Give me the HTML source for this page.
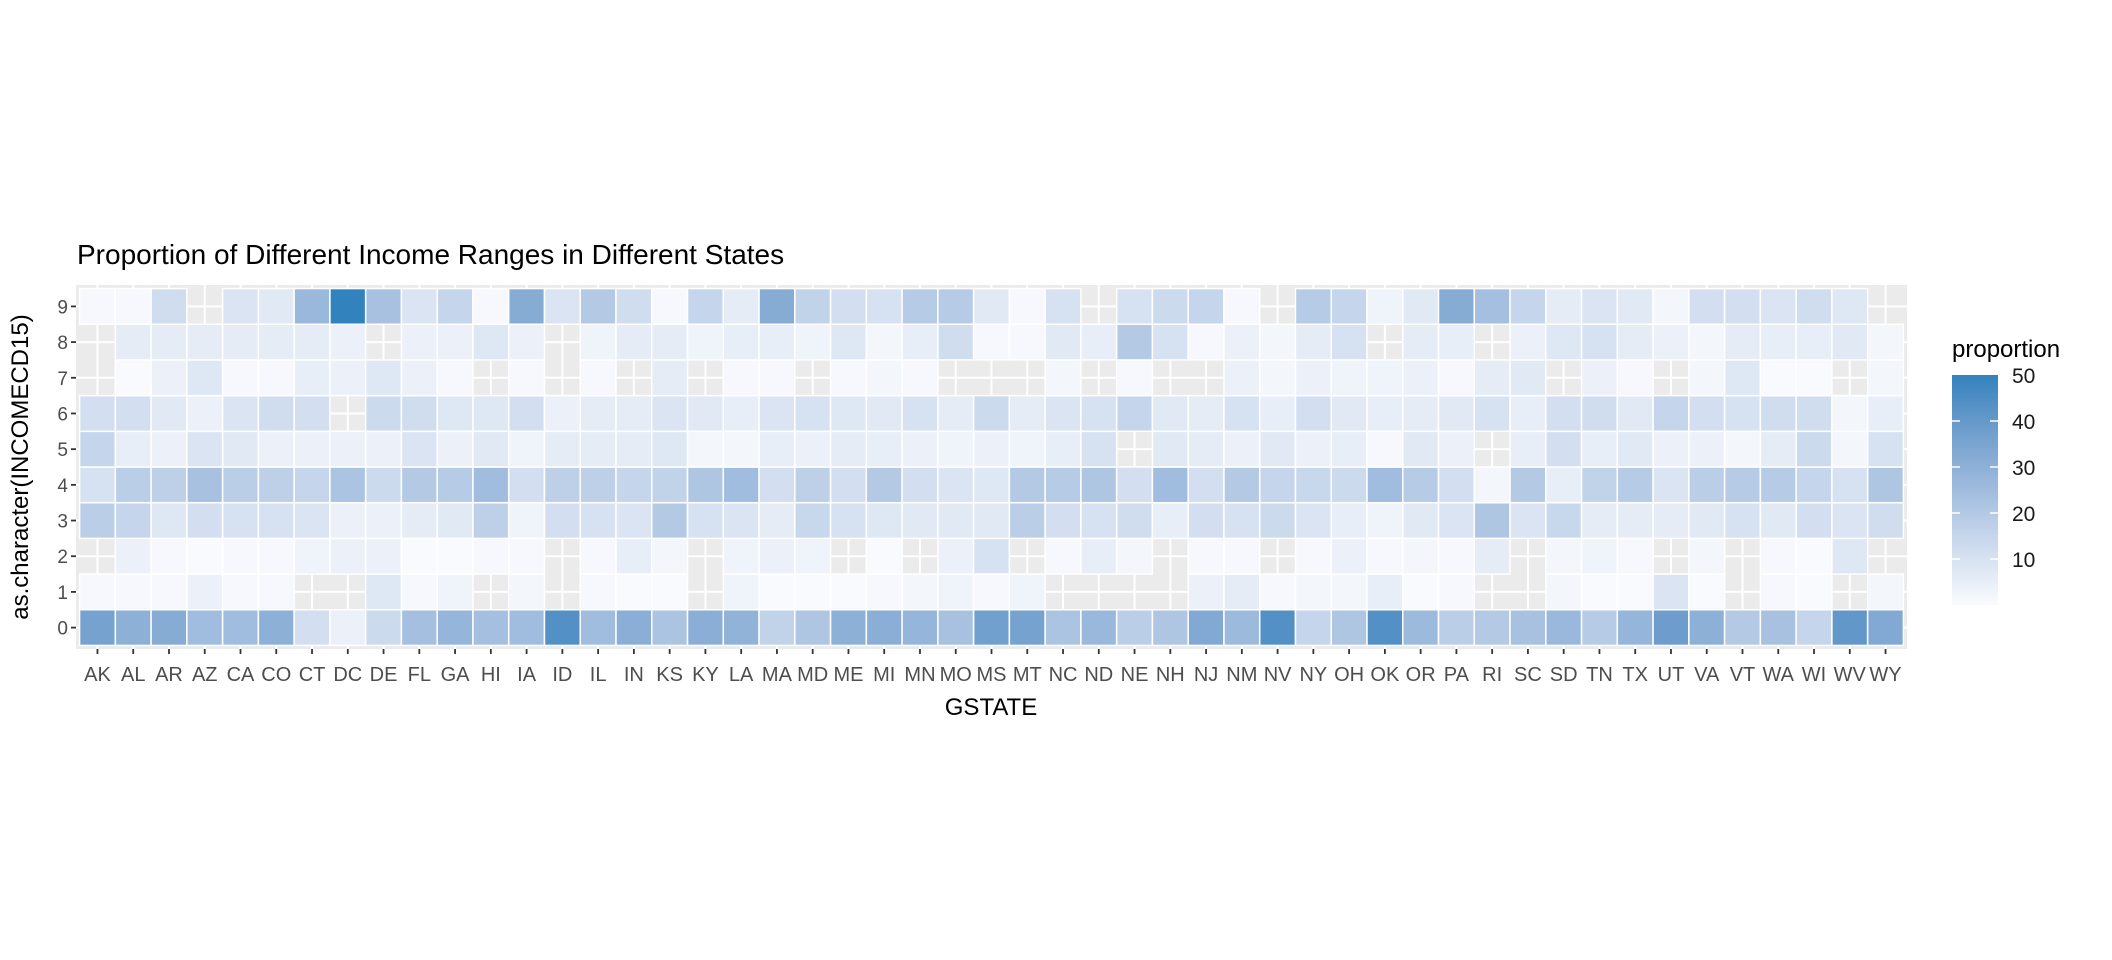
<!DOCTYPE html>
<html><head><meta charset="utf-8"><style>
html,body{margin:0;padding:0;background:#fff;}
svg{display:block;font-family:"Liberation Sans",Arial,sans-serif;}
</style></head><body>
<svg id="chart" width="2112" height="960" viewBox="0 0 2112 960">
<rect x="0" y="0" width="2112" height="960" fill="#fff"/>
<text x="77" y="264" font-size="28" fill="#000">Proportion of Different Income Ranges in Different States</text>
<text x="991" y="715" font-size="24" fill="#000" text-anchor="middle">GSTATE</text>
<text transform="translate(28,467) rotate(-90)" font-size="24" fill="#000" text-anchor="middle">as.character(INCOMECD15)</text>
<text x="1952" y="357" font-size="24" fill="#000">proportion</text>
<g id="panel"></g>
<g id="legend"></g>
</svg>
<script>
const states = ["AK","AL","AR","AZ","CA","CO","CT","DC","DE","FL","GA","HI","IA","ID","IL","IN","KS","KY","LA","MA","MD","ME","MI","MN","MO","MS","MT","NC","ND","NE","NH","NJ","NM","NV","NY","OH","OK","OR","PA","RI","SC","SD","TN","TX","UT","VA","VT","WA","WI","WV","WY"];
const incomeLevels = ["0","1","2","3","4","5","6","7","8","9"];
const legendTicks = [10,20,30,40,50];
const N = null;
const row0 = [36,30,32,25,25,30,11,4,13,24,28,24,25,44,25,31,22,31,29,16,21,30,31,28,23,37,36,22,27,18,21,33,26,44,15,21,44,26,18,20,23,27,19,28,38,30,20,23,15,41,33];
const row1 = [1,1,1,4,1,1,N,N,8,1,3,N,2,N,1,0.5,0.5,N,3,0.5,0.5,0.5,1,2,3,1,3,N,N,N,N,4,6,1,2,2,5,0.5,1,N,N,2,0.3,0.3,9,0.3,N,1,0.3,N,2];
const row2 = [N,4,1,0.5,1,1,3,4,4,0.3,0.3,1,1,N,1,5,2,N,3,4,3,N,0.3,N,4,10,N,1,5,2,N,1,1,N,1,4,1,2,1,6,N,2,3,1,N,2,N,1,0.5,8,N];
const row3 = [18,15,8,11,10,10,9,4,4,6,7,17,3,11,10,9,20,10,9,6,14,10,8,7,7,7,18,11,10,12,5,11,10,13,9,5,3,7,9,21,9,14,6,6,6,7,10,7,11,9,12];
const row4 = [10,18,17,23,18,17,15,22,13,20,19,25,11,17,17,15,16,21,25,11,17,11,20,11,9,8,20,19,21,11,25,11,20,15,14,13,25,19,11,2,20,5,16,19,9,18,19,19,15,10,21];
const row5 = [15,5,4,9,7,4,4,4,4,9,4,7,3,6,6,6,8,2,2,5,4,6,5,4,3,4,3,5,10,N,7,6,4,7,4,5,1,7,4,N,5,11,5,7,4,4,2,6,13,2,10];
const row6 = [11,11,7,4,9,12,11,N,13,12,8,8,11,4,6,6,9,7,5,9,10,8,7,10,6,13,6,9,10,15,7,6,10,5,11,7,5,6,7,10,5,11,12,7,15,11,10,12,12,2,5];
const row7 = [N,0.5,4,8,1,1,5,4,8,4,1,N,1,N,1,N,6,N,1,1,N,1,2,1,N,N,N,2,N,1,N,N,4,2,4,3,3,4,1,6,7,N,4,1,N,2,8,0.5,0.3,N,2];
const row8 = [N,6,6,6,6,6,6,4,N,4,4,8,4,N,3,6,6,3,5,5,3,8,2,5,12,1,1,7,5,20,10,1,4,2,6,10,N,6,5,N,4,8,10,6,4,2,6,5,5,7,2];
const row9 = [1,1,12,N,9,7,27,50,23,9,15,1,32,9,20,12,1,15,6,32,16,11,10,19,19,7,1,10,N,10,13,15,1,N,19,15,3,7,32,24,15,6,9,7,2,11,11,9,12,8,N];
const rows = [row0,row1,row2,row3,row4,row5,row6,row7,row8,row9];

const NS = "http://www.w3.org/2000/svg";
const panelX0 = 76, panelX1 = 1907, panelY0 = 285, panelY1 = 649;
const xUnit = (panelX1 - panelX0) / (states.length + 0.2);
const yUnit = (panelY1 - panelY0) / (incomeLevels.length + 0.2);
function xScale(i){ return panelX0 + (i + 0.6) * xUnit; }
function yScale(j){ return panelY1 - (j + 0.6) * yUnit; }
const vMin = 0, vMax = 50;

function hex2rgb(h){return [parseInt(h.substr(1,2),16),parseInt(h.substr(3,2),16),parseInt(h.substr(5,2),16)];}
function lin(c){c/=255;return c<=0.04045?c/12.92:Math.pow((c+0.055)/1.055,2.4);}
function delin(c){c=c<=0.0031308?12.92*c:1.055*Math.pow(c,1/2.4)-0.055;return Math.max(0,Math.min(255,Math.round(c*255)));}
function toLab(h){const [r,g,b]=hex2rgb(h).map(lin);
 let X=(0.4124*r+0.3576*g+0.1805*b)/0.95047,Y=(0.2126*r+0.7152*g+0.0722*b),Z=(0.0193*r+0.1192*g+0.9505*b)/1.08883;
 const f=t=>t>0.008856?Math.cbrt(t):7.787*t+16/116;
 const fx=f(X),fy=f(Y),fz=f(Z);return [116*fy-16,500*(fx-fy),200*(fy-fz)];}
function fromLab(L,a,b){const fy=(L+16)/116,fx=fy+a/500,fz=fy-b/200;
 const fi=t=>t*t*t>0.008856?t*t*t:(t-16/116)/7.787;
 const X=fi(fx)*0.95047,Y=fi(fy),Z=fi(fz)*1.08883;
 const r=3.2406*X-1.5372*Y-0.4986*Z,g=-0.9689*X+1.8758*Y+0.0415*Z,bb=0.0557*X-0.2040*Y+1.0570*Z;
 return "rgb("+delin(r)+","+delin(g)+","+delin(bb)+")";}
const labLo = toLab("#FAFBFE"), labHi = toLab("#3182BD");
function colorScale(v){let t=(v-vMin)/(vMax-vMin);t=Math.max(0,Math.min(1,t));
 return fromLab(labLo[0]+(labHi[0]-labLo[0])*t,labLo[1]+(labHi[1]-labLo[1])*t,labLo[2]+(labHi[2]-labLo[2])*t);}

const svg = document.getElementById("chart");
const panel = document.getElementById("panel");
function mk(tag, attrs, parent){const e=document.createElementNS(NS,tag);for(const k in attrs)e.setAttribute(k,attrs[k]);parent.appendChild(e);return e;}

const bg = mk("rect",{x:panelX0,y:panelY0,width:panelX1-panelX0,height:panelY1-panelY0,fill:"#EBEBEB"},panel);


states.forEach((s,i)=>{
  const l = mk("line",{x1:xScale(i),x2:xScale(i),y1:panelY0,y2:panelY1,stroke:"#fff","stroke-width":2},panel);
  
  
});
incomeLevels.forEach((lv,j)=>{
  const l = mk("line",{x1:panelX0,x2:panelX1,y1:yScale(j),y2:yScale(j),stroke:"#fff","stroke-width":2},panel);
  
  
});
rows.forEach((row,j)=>{
  row.forEach((v,i)=>{
    if(v===null) return;
    const r = mk("rect",{x:xScale(i)-xUnit/2,y:yScale(j)-yUnit/2,width:xUnit,height:yUnit,fill:colorScale(v),stroke:"#fff","stroke-width":1.5},panel);
    
    
  });
});
states.forEach((s,i)=>{
  const t = mk("line",{x1:xScale(i),x2:xScale(i),y1:panelY1,y2:panelY1+5,stroke:"#333","stroke-width":1.8},panel);
  
  
  const tx = mk("text",{x:xScale(i),y:681,"font-size":20,fill:"#4D4D4D","text-anchor":"middle"},panel);
  tx.textContent = s;
  
  
});
incomeLevels.forEach((lv,j)=>{
  const t = mk("line",{x1:panelX0-5,x2:panelX0,y1:yScale(j),y2:yScale(j),stroke:"#333","stroke-width":1.8},panel);
  
  
  const tx = mk("text",{x:panelX0-8,y:yScale(j)+7,"font-size":19,fill:"#4D4D4D","text-anchor":"end"},panel);
  tx.textContent = lv;
  
  
});

const legend = document.getElementById("legend");
const lgX = 1952, lgW = 46, lgTop = 375, lgBot = 605;
function lgY(v){ return lgBot - (v - vMin)/(vMax - vMin)*(lgBot-lgTop); }
const defs = mk("defs",{},svg);
const grad = mk("linearGradient",{id:"lg",x1:0,y1:1,x2:0,y2:0},defs);
for(let k=0;k<=20;k++){ mk("stop",{offset:(k/20),"stop-color":colorScale(vMin+(vMax-vMin)*k/20)},grad); }
const bar = mk("rect",{x:lgX,y:lgTop,width:lgW,height:lgBot-lgTop,fill:"url(#lg)"},legend);


legendTicks.forEach(v=>{
  const y = lgY(v);
  if(v<vMax){
    const a = mk("line",{x1:lgX,x2:lgX+8,y1:y,y2:y,stroke:"#fff","stroke-width":1.5},legend);
    
    
    const b = mk("line",{x1:lgX+lgW-8,x2:lgX+lgW,y1:y,y2:y,stroke:"#fff","stroke-width":1.5},legend);
    
    
  }
  const tx = mk("text",{x:2012,y:y+8,"font-size":21,fill:"#1a1a1a"},legend);
  tx.textContent = v;
  
  
});
</script>
</body></html>
